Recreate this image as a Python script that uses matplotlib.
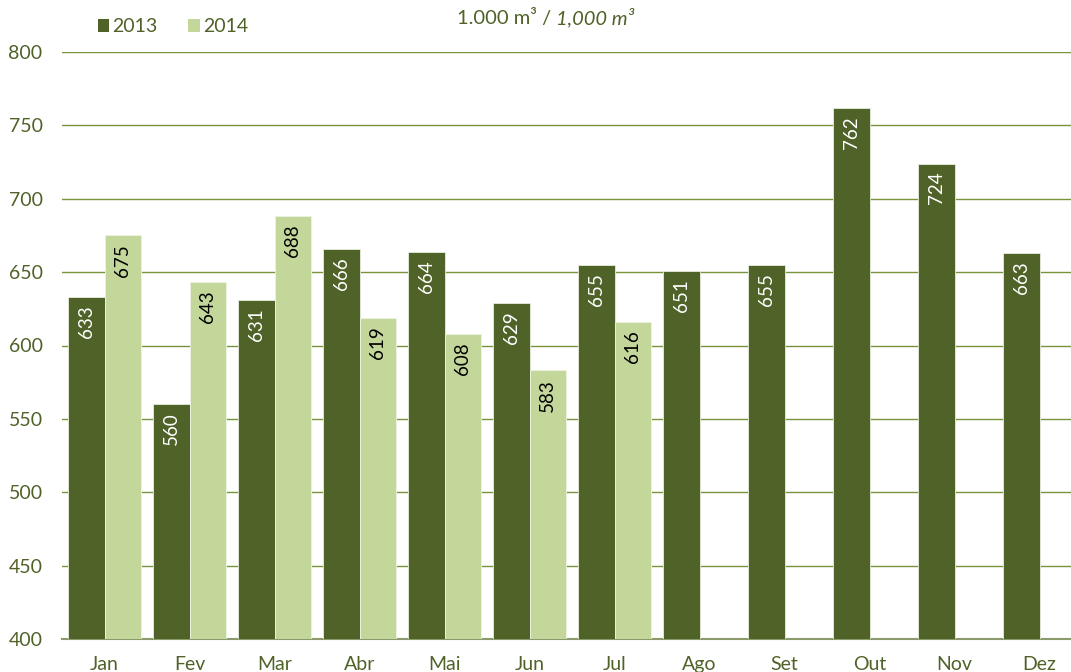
import matplotlib
matplotlib.use("Agg")
import matplotlib.pyplot as plt
import numpy as np

months = ["Jan", "Fev", "Mar", "Abr", "Mai", "Jun", "Jul", "Ago", "Set", "Out", "Nov", "Dez"]
v2013 = [633, 560, 631, 666, 664, 629, 655, 651, 655, 762, 724, 663]
v2014 = [675, 643, 688, 619, 608, 583, 616]
series_names = ["2013", "2014"]
yticks = [400, 450, 500, 550, 600, 650, 700, 750, 800]

DARK = "#4F6228"
LIGHT = "#C4D79B"
TXT = "#4F6228"
GRID = "#77933C"

plt.rcParams['font.family'] = ['Lato', 'DejaVu Sans']

fig = plt.figure(figsize=(10.71, 6.72), dpi=100)
ax = fig.add_axes([62/1071, 1-639/672, 1020/1071, (639-52)/672])

x = np.arange(len(months))
w = 0.43
b1 = ax.bar(x[:len(v2013)] - w, np.array(v2013) - 400, bottom=400, width=w, align='edge',
            color=DARK, edgecolor="#E8EEDC", linewidth=0.6, label=series_names[0], zorder=3)
b2 = ax.bar(x[:len(v2014)], np.array(v2014) - 400, bottom=400, width=w, align='edge',
            color=LIGHT, edgecolor="#EEF3E3", linewidth=0.6, label=series_names[1], zorder=3)

for xi, v in zip(x, v2013):
    ax.annotate(str(v), (xi - w/2, v), xytext=(0, -6), textcoords='offset points',
                rotation=90, ha='center', va='top', color='white', fontsize=13.5, zorder=4)
for xi, v in zip(x, v2014):
    ax.annotate(str(v), (xi + w/2, v), xytext=(0, -6), textcoords='offset points',
                rotation=90, ha='center', va='top', color='black', fontsize=13.5, zorder=4)

ax.set_xlim(-0.5, 11.5)
ax.set_ylim(400, 800)
ax.set_yticks(yticks)
ax.set_xticks(x)
ax.set_xticklabels(months)
ax.tick_params(axis='both', length=0, colors=TXT, labelsize=14)
ax.tick_params(axis='y', pad=14)
ax.tick_params(axis='x', pad=12)
for s in ["top", "right", "left"]:
    ax.spines[s].set_visible(False)
ax.spines["bottom"].set_color("#8A9A6A")
ax.spines["bottom"].set_linewidth(1.5)
ax.yaxis.grid(True, color=GRID, linewidth=1, zorder=0)
ax.set_axisbelow(True)

leg = fig.legend(handles=[b1, b2], labels=series_names, loc='upper left',
                 bbox_to_anchor=(80/1071, 1-1/672), ncol=2, frameon=False,
                 handlelength=0.6, handleheight=0.6, handletextpad=0.15,
                 columnspacing=1.6, fontsize=14, labelcolor=TXT)
for h in leg.legend_handles:
    h.set_edgecolor('none')

t1 = fig.text(457/1071, 1-18/672, "1.000 m³ / ", ha='left', va='center', color=TXT, fontsize=14.5)
fig.canvas.draw()
bb = t1.get_window_extent()
fig.text(bb.x1/fig.bbox.width, 1-18/672, "1,000 m³", ha='left', va='center', color=TXT,
         fontsize=14.5, style='italic')

fig.savefig("out.png", dpi=100)
